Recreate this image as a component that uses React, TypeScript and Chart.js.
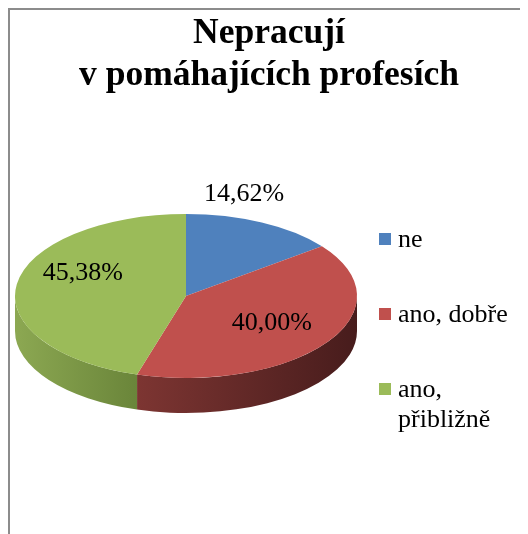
import React, { useEffect, useRef } from 'react';
import { Chart, registerables } from 'chart.js';

Chart.register(...registerables);

// ---- data ----
const TITLE_LINES = ['Nepracují', 'v pomáhajících profesích'];
const CATEGORIES = ['ne', 'ano, dobře', 'ano, přibližně'];
const VALUES = [14.62, 40.0, 45.38];
const TOP_COLORS = ['#4F81BD', '#C0504D', '#9BBB59'];
const SIDE_LIGHT = ['#3d6797', '#7d3532', '#8ca852'];
const SIDE_DARK = ['#27456a', '#471c1c', '#6a853a'];

const FONT = '"Liberation Serif", "Times New Roman", serif';
const TILT = 82 / 171;
const DEPTH = 35;

const fmt = (v: number) => v.toFixed(2).replace('.', ',') + '%';

const pie3d = {
  id: 'pie3d',
  beforeDatasetsDraw(chart: any) {
    const ctx = chart.ctx as CanvasRenderingContext2D;
    const arcs = chart.getDatasetMeta(0).data as any[];
    if (!arcs.length) return;
    const cx = arcs[0].x, cy = arcs[0].y, r = arcs[0].outerRadius;
    const ry = r * TILT;
    ctx.save();
    arcs.forEach((arc, i) => {
      const ranges = [[0, Math.PI], [2 * Math.PI, 3 * Math.PI]];
      ranges.forEach(([lo, hi]) => {
        const s = Math.max(arc.startAngle, lo);
        const e = Math.min(arc.endAngle, hi);
        if (e <= s) return;
        const x1 = cx + r * Math.cos(s);
        const x2 = cx + r * Math.cos(e);
        const g = ctx.createLinearGradient(Math.min(x1, x2), 0, Math.max(x1, x2), 0);
        g.addColorStop(0, SIDE_LIGHT[i]);
        g.addColorStop(1, SIDE_DARK[i]);
        ctx.beginPath();
        ctx.ellipse(cx, cy, r, ry, 0, s, e, false);
        ctx.lineTo(cx + r * Math.cos(e), cy + ry * Math.sin(e) + DEPTH);
        ctx.ellipse(cx, cy + DEPTH, r, ry, 0, e, s, true);
        ctx.closePath();
        ctx.fillStyle = g;
        ctx.fill();
      });
    });
    ctx.restore();
    ctx.save();
    ctx.translate(cx, cy);
    ctx.scale(1, TILT);
    ctx.translate(-cx, -cy);
  },
  afterDatasetsDraw(chart: any) {
    chart.ctx.restore();
  },
  afterDraw(chart: any) {
    const ctx = chart.ctx as CanvasRenderingContext2D;
    const arcs = chart.getDatasetMeta(0).data as any[];
    const total = VALUES.reduce((a, b) => a + b, 0);
    ctx.save();
    // slice labels
    ctx.fillStyle = '#000';
    ctx.font = `26px ${FONT}`;
    ctx.textAlign = 'center';
    ctx.textBaseline = 'middle';
    arcs.forEach((arc, i) => {
      const cx = arc.x, cy = arc.y, r = arc.outerRadius, ry = r * TILT;
      const mid = (arc.startAngle + arc.endAngle) / 2;
      const text = fmt(VALUES[i]);
      let x: number, y: number;
      if (VALUES[i] / total < 0.2) {
        const w = ctx.measureText(text).width;
        x = cx + r * Math.cos(mid) - 0.22 * w;
        y = cy + ry * Math.sin(mid) - 28;
      } else {
        x = cx + 0.61 * r * Math.cos(mid);
        y = cy + 0.86 * ry * Math.sin(mid) - 13;
      }
      ctx.fillText(text, x, y);
    });
    // title
    ctx.font = `bold 35.5px ${FONT}`;
    ctx.textBaseline = 'alphabetic';
    ctx.textAlign = 'center';
    TITLE_LINES.forEach((line, i) => ctx.fillText(line, 259, 33 + i * 42));
    // legend
    ctx.font = `26px ${FONT}`;
    ctx.textAlign = 'left';
    let yc = 229;
    CATEGORIES.forEach((cat, i) => {
      ctx.fillStyle = TOP_COLORS[i];
      ctx.fillRect(369, yc - 6, 12, 12);
      const words = cat.split(' ');
      const lines: string[] = [];
      let cur = '';
      words.forEach((w) => {
        const t = cur ? cur + ' ' + w : w;
        if (cur && ctx.measureText(t).width > 120) {
          lines.push(cur);
          cur = w;
        } else cur = t;
      });
      if (cur) lines.push(cur);
      ctx.fillStyle = '#000';
      lines.forEach((l, j) => ctx.fillText(l, 388, yc + 8 + j * 30));
      yc += 75;
    });
    ctx.restore();
  },
};

export default function App() {
  const ref = useRef<HTMLCanvasElement>(null);
  useEffect(() => {
    if (!ref.current) return;
    const chart = new Chart(ref.current, {
      type: 'pie',
      data: {
        labels: CATEGORIES,
        datasets: [
          {
            data: VALUES,
            backgroundColor: TOP_COLORS,
            borderWidth: 0,
            radius: 171,
          } as any,
        ],
      },
      options: {
        responsive: false,
        animation: false,
        devicePixelRatio: 1,
        events: [],
        layout: { padding: { left: 0, right: 166, top: 48, bottom: 0 } },
        plugins: {
          legend: { display: false },
          title: { display: false },
          tooltip: { enabled: false },
        },
      } as any,
      plugins: [pie3d as any],
    });
    return () => chart.destroy();
  }, []);
  return (
    <div
      style={{
        width: 520,
        height: 526,
        overflow: 'hidden',
        boxSizing: 'border-box',
        borderLeft: '2px solid #8c8c8c',
        borderTop: '2px solid #8c8c8c',
        background: '#fff',
      }}
    >
      <canvas ref={ref} width={518} height={524} style={{ display: 'block' }} />
    </div>
  );
}
